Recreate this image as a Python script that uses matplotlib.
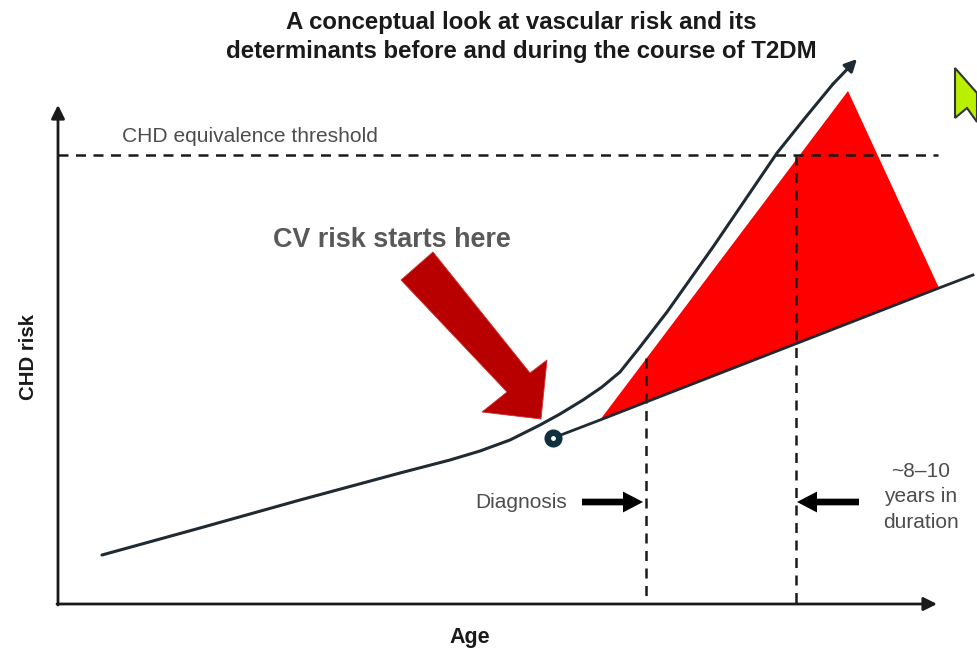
import matplotlib
matplotlib.use("Agg")
import matplotlib.pyplot as plt
from matplotlib.patches import Polygon

plt.rcParams['font.family'] = ['Liberation Sans', 'DejaVu Sans']

# Values, in reference pixels
risk_before_x = [102, 200, 300, 400, 450, 480, 510, 540, 560, 583, 602, 620, 640, 667, 713, 745, 777, 805, 833, 857]
risk_before_y = [555, 528, 500, 473, 460, 451, 440, 425, 414, 400, 387, 372, 347, 312, 247, 200, 153, 118, 84, 59]
risk_after_x = [553, 600, 939, 973]
risk_after_y = [438, 420, 288, 275]
excess_x = [600, 848, 939]
excess_y = [420, 91, 288]
threshold = 155
diagnosis_x = 646
diagnosis_top = 358
duration_x = 796
duration_top = 155
big_arrow_x = [401, 433, 530, 547, 541, 482, 507]
big_arrow_y = [280, 252, 373, 360, 419, 412, 392]
cursor_x = [955, 955, 967, 977, 977]
cursor_y = [68, 118, 108, 122, 93]

title_lines = "A conceptual look at vascular risk and its\ndeterminants before and during the course of T2DM"

fig = plt.figure(figsize=(9.77, 6.5), dpi=100)
ax = fig.add_axes([0, 0, 1, 1])
ax.set_xlim(0, 977)
ax.set_ylim(650, 0)
ax.axis('off')

dark = '#1f2a33'
grey = '#4d4d4d'

ax.add_patch(Polygon(list(zip(excess_x, excess_y)), closed=True, fc='#fe0000', ec='none', zorder=2))
ax.add_patch(Polygon(list(zip(big_arrow_x, big_arrow_y)), closed=True, fc='#b80000', ec='#d03030', lw=0.6, zorder=3))
ax.add_patch(Polygon(list(zip(cursor_x, cursor_y)), closed=True, fc='#b8f000', ec='#333333', lw=1.5, zorder=3,
                     joinstyle='miter'))

dash = dict(color='#1a1a1a', lw=1.8, dashes=(4, 3), zorder=4)
ax.plot([58, 938], [threshold, threshold], **dash)
ax.plot([diagnosis_x, diagnosis_x], [diagnosis_top, 600], **dash)
ax.plot([duration_x, duration_x], [duration_top, 603], **dash)

ax.plot(risk_before_x[:-1], risk_before_y[:-1], color=dark, lw=2.2, zorder=5, solid_capstyle='round',
        solid_joinstyle='round')
ax.annotate('', xy=(risk_before_x[-1], risk_before_y[-1]), xytext=(risk_before_x[-2], risk_before_y[-2]),
            arrowprops=dict(arrowstyle='-|>', color=dark, lw=2.2, mutation_scale=18, shrinkA=0, shrinkB=0), zorder=5)
ax.plot(risk_after_x, risk_after_y, color=dark, lw=2.0, zorder=5)
ax.plot(risk_after_x[0], risk_after_y[0], 'o', ms=8.3, mfc='white', mec='#10303f', mew=4.7, zorder=6)

axis_style = dict(arrowstyle='-|>', color='#1a1a1a', lw=2, mutation_scale=20, shrinkA=0, shrinkB=0)
ax.annotate('', xy=(937, 604), xytext=(57, 604), arrowprops=axis_style)
ax.annotate('', xy=(58, 105), xytext=(58, 605), arrowprops=axis_style)

block = dict(arrowstyle='simple,head_length=0.72,head_width=0.75,tail_width=0.24', color='black', lw=0,
             mutation_scale=20, shrinkA=0, shrinkB=0)
ax.annotate('', xy=(643, 502), xytext=(582, 502), arrowprops=block)
ax.annotate('', xy=(797, 502), xytext=(859, 502), arrowprops=block)

ax.text(521, 37, title_lines, ha='center', va='center', fontsize=17.3, fontweight='bold',
        color='#1a1a1a', linespacing=1.38)
ax.text(122, 136, 'CHD equivalence threshold', ha='left', va='center', fontsize=15.1, color=grey)
ax.text(392, 240, 'CV risk starts here', ha='center', va='center', fontsize=19.4, fontweight='bold', color='#595959')
ax.text(521, 502, 'Diagnosis', ha='center', va='center', fontsize=15, color=grey)
ax.text(921, 497, '~8–10\nyears in\nduration', ha='center', va='center', fontsize=15, color=grey, linespacing=1.45)
ax.text(28, 357, 'CHD risk', ha='center', va='center', rotation=90, fontsize=14.7, fontweight='bold', color='#1a1a1a')
ax.text(470, 638, 'Age', ha='center', va='center', fontsize=15.5, fontweight='bold', color='#1a1a1a')

fig.savefig('out.png', dpi=100)
